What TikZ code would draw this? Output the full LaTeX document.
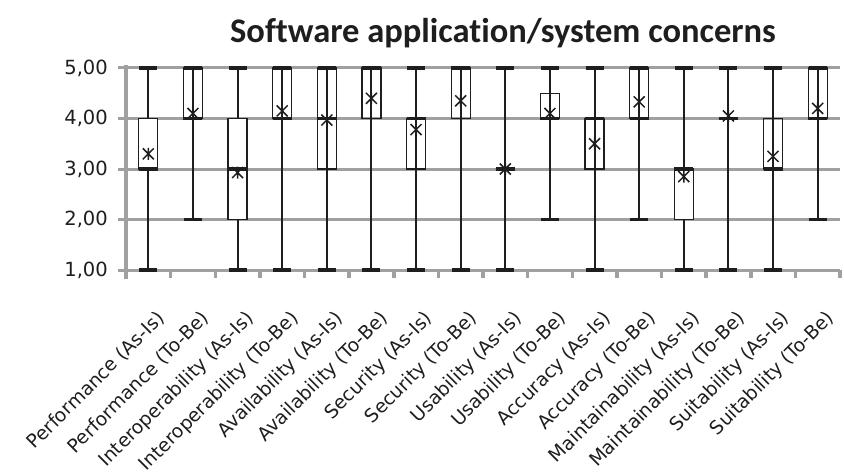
\documentclass[tikz,border=0pt]{standalone}
\usepackage{fontspec}
\setmainfont{DejaVu Sans}
\newfontfamily\titlefont[Ligatures=NoCommon]{Carlito}
\definecolor{gridgray}{HTML}{A0A0A0}
\definecolor{ink}{HTML}{1E1E1E}

\begin{document}
\begin{tikzpicture}[x=1pt,y=1pt,
  gridline/.style={gridgray, line width=3pt},
  axisline/.style={gridgray, line width=3.5pt},
  whisker/.style={ink, line width=2pt},
  capbar/.style={ink, line width=3.6pt},
  filledbox/.style={draw=ink, line width=1.3pt, fill=white},
  openbox/.style={draw=ink, line width=1.3pt},
  meanmark/.style={ink, line width=1.5pt},
  ticklabel/.style={font=\fontsize{19.5}{22}\selectfont, text=ink, anchor=east, inner sep=0pt},
  catlabel/.style={font=\fontsize{18.8}{22}\selectfont, text=ink, rotate=45, anchor=north east, inner sep=0pt},
  charttitle/.style={font=\titlefont\bfseries\fontsize{34.5}{38}\selectfont, text=ink, anchor=base}
]
\useasboundingbox (0,0) rectangle (844,475);

% value axis: 1 unit = 50.5pt, value 1 sits at y = 205
\def\vy#1{205+(#1-1)*50.5}
\def\dx{44.625}

% title
\node[charttitle] (title) at (503,432) {Software application/system concerns};

% horizontal gridlines and value labels
\foreach \v/\lab in {1/{1,00},2/{2,00},3/{3,00},4/{4,00},5/{5,00}}{
  \draw[gridline] (118,{\vy{\v}}) -- (840,{\vy{\v}});
  \node[ticklabel] (tick\v) at (108,{\vy{\v}}) {\lab};
}
% vertical axis and category ticks
\draw[axisline] (126,410) -- (126,196);
\foreach \k in {1,...,16}{
  \draw[axisline] ({126+\k*\dx},205) -- ({126+\k*\dx},197);
}

% boxes: index / min / q1 / q3 / max / median / mean / filled / label
\foreach \i/\mn/\qa/\qb/\mx/\md/\mean/\fl/\lab in {
  0/1/3/4/5/3/3.30/1/{Performance (As-Is)},
  1/2/4/5/5/4/4.10/0/{Performance (To-Be)},
  2/1/2/4/5/3/2.93/1/{Interoperability (As-Is)},
  3/1/4/5/5/4/4.15/0/{Interoperability (To-Be)},
  4/1/3/5/5/4/3.97/0/{Availability (As-Is)},
  5/1/4/5/5/5/4.40/0/{Availability (To-Be)},
  6/1/3/4/5/4/3.78/0/{Security (As-Is)},
  7/1/4/5/5/5/4.35/0/{Security (To-Be)},
  8/1/3/3/5/3/3.00/0/{Usability (As-Is)},
  9/2/4/4.5/5/4/4.10/0/{Usability (To-Be)},
  10/1/3/4/5/4/3.50/0/{Accuracy (As-Is)},
  11/2/4/5/5/4/4.33/0/{Accuracy (To-Be)},
  12/1/2/3/5/3/2.85/1/{Maintainability (As-Is)},
  13/1/4/4/5/4/4.05/0/{Maintainability (To-Be)},
  14/1/3/4/5/3/3.25/0/{Suitability (As-Is)},
  15/2/4/5/5/4/4.20/0/{Suitability (To-Be)}}{
  \pgfmathsetmacro\cx{148.3+\i*\dx}
  \pgfmathsetmacro\ya{\vy{\mn}}
  \pgfmathsetmacro\yb{\vy{\qa}}
  \pgfmathsetmacro\yc{\vy{\qb}}
  \pgfmathsetmacro\yd{\vy{\mx}}
  \pgfmathsetmacro\ym{\vy{\md}}
  \pgfmathsetmacro\ye{\vy{\mean}}
  \draw[whisker] (\cx,\ya) -- (\cx,\yd);
  \ifnum\fl=1
    \draw[filledbox] ({\cx-9.5},\yb) rectangle ({\cx+9.5},\yc);
  \else
    \draw[openbox] ({\cx-9.5},\yb) rectangle ({\cx+9.5},\yc);
  \fi
  \draw[capbar] ({\cx-9},\ya) -- ({\cx+9},\ya);
  \draw[capbar] ({\cx-9},\yd) -- ({\cx+9},\yd);
  \draw[capbar] ({\cx-9.5},\ym) -- ({\cx+9.5},\ym);
  \draw[meanmark] ({\cx-5.5},{\ye-5.5}) -- ({\cx+5.5},{\ye+5.5})
                  ({\cx-5.5},{\ye+5.5}) -- ({\cx+5.5},{\ye-5.5})
                  (\cx,{\ye-6}) -- (\cx,{\ye+6});
  \node[catlabel] (cat\i) at ({\cx+7},166) {\lab};
}
\end{tikzpicture}
\end{document}
